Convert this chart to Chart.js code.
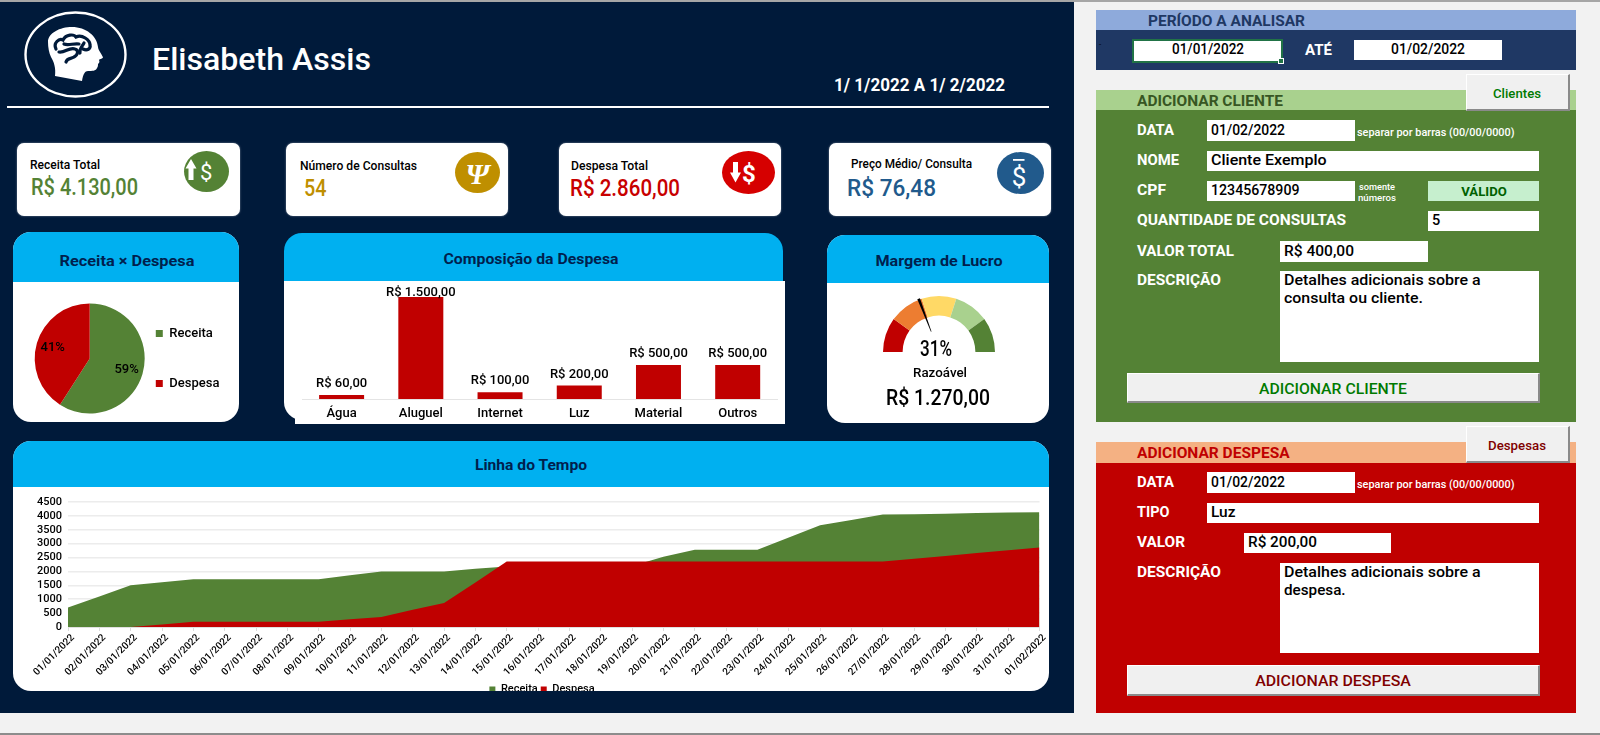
<!DOCTYPE html>
<html lang="pt-BR"><head><meta charset="utf-8"><title>Elisabeth Assis</title>
<script src="https://cdn.jsdelivr.net/npm/chart.js@4/dist/chart.umd.min.js"></script>
<style>
html,body{margin:0;padding:0;width:1600px;height:735px;overflow:hidden;background:#f2f2f2}
#r{position:absolute;left:0;top:0;width:1600px;height:735px;overflow:hidden;font-family:Roboto,sans-serif}
.b{position:absolute;box-sizing:border-box}
.t{position:absolute;white-space:pre;line-height:1}
canvas{position:absolute;display:block}
</style></head><body><div id="r"></div>
<script>
// ---- chart data ----
const pieLabels=['Receita','Despesa'];
const pieValues=[4130,2860];
const pieColors=['#548235','#c00000'];
const costCategories=['Água','Aluguel','Internet','Luz','Material','Outros'];
const costValues=[60,1500,100,200,500,500];
const gaugeSegments=[20,20,20,20,20];
const gaugeColors=['#c00000','#ed7d31','#ffd966','#a9d18e','#548235'];
const gaugeNeedlePercent=38.4;
const timelineDates=['01/01/2022','02/01/2022','03/01/2022','04/01/2022','05/01/2022','06/01/2022','07/01/2022','08/01/2022','09/01/2022','10/01/2022','11/01/2022','12/01/2022','13/01/2022','14/01/2022','15/01/2022','16/01/2022','17/01/2022','18/01/2022','19/01/2022','20/01/2022','21/01/2022','22/01/2022','23/01/2022','24/01/2022','25/01/2022','26/01/2022','27/01/2022','28/01/2022','29/01/2022','30/01/2022','31/01/2022','01/02/2022'];
const timelineReceita=[700,1100,1500,1610,1720,1720,1720,1720,1720,1860,2000,2000,2000,2100,2180,2190,2190,2200,2200,2530,2780,2780,2780,3220,3660,3850,4050,4060,4080,4100,4120,4130];
const timelineDespesa=[0,0,0,90,190,190,190,190,190,280,360,620,860,1600,2360,2360,2360,2360,2360,2360,2360,2360,2360,2360,2360,2360,2360,2460,2560,2660,2760,2860];

const FONT='Roboto, sans-serif', NAVY='#001a3a', INK='#000';
const root=document.getElementById('r');
function box(x,y,w,h,css){const d=document.createElement('div');d.className='b';d.style.cssText=`left:${x}px;top:${y}px;width:${w}px;height:${h}px;${css||''}`;root.appendChild(d);return d;}
function txt(s,x,y,size,weight,color,align,tw){const d=document.createElement('div');d.className='t';d.textContent=s;
 d.style.cssText=`left:${x}px;top:${y}px;font-size:${size}px;font-weight:${weight};color:${color}`;root.appendChild(d);
 const base=align==='c'?'translate(-50%,-50%)':'translateY(-50%)';let sc='';
 if(tw){sc=` scaleX(${tw/d.getBoundingClientRect().width})`;}
 d.style.transformOrigin=align==='c'?'center center':'left center';d.style.transform=base+sc;return d;}
function svg(x,y,w,h,inner){const d=document.createElement('div');d.style.cssText=`position:absolute;left:${x}px;top:${y}px;width:${w}px;height:${h}px`;
 d.innerHTML=`<svg xmlns="http://www.w3.org/2000/svg" width="${w}" height="${h}" viewBox="${x} ${y} ${w} ${h}" style="display:block">${inner}</svg>`;root.appendChild(d);}
function canvas(x,y,w,h,parent){const c=document.createElement('canvas');c.width=w;c.height=h;c.style.cssText=`left:${x}px;top:${y}px;width:${w}px;height:${h}px`;(parent||root).appendChild(c);return c;}

// ---- frame ----
box(0,0,1600,2,'background:#a6a6a6');
box(0,733,1600,2,'background:#8c8c8c');
box(0,2,1074,711,`background:${NAVY}`);
svg(20,8,112,94,`<ellipse cx="75.5" cy="54.5" rx="50" ry="42" fill="none" stroke="#fff" stroke-width="2.4"/>
<path d="M48 42C48 33 60 27 72 27C86 27 97 36 98 47C98 50 103 56 103 57.5C102 59 99 59 99 60C100 62 99 63 98 64C98 65 98 67 97 68C96 71 92 71 88 71C85 71 83 74 82 81L55 76C56 68 54 62 51 57C49 53 48 47 48 42Z" fill="#fff"/>
<g fill="none" stroke="${NAVY}" stroke-width="3.2" stroke-linecap="round"><path d="M56 49C53 43 59 38 63 40C66 34 74 34 76 37C82 34 90 40 90 45C91 49 87 51 83 49"/><path d="M59 52C65 53 69 47 75 49C79 50 78 55 74 57C71 59 67 58 66 62"/><path d="M64 44C68 46 74 43 79 44"/><path d="M84 43C82 47 79 49 80 53"/></g>`);
txt('Elisabeth Assis',152,59,32,500,'#fff','l',219);
txt('1/ 1/2022 A 1/ 2/2022',834,85,18,700,'#fff','l',171);
box(7,106,1042,2,'background:#fff');

// ---- KPI cards ----
const whiteCard='background:#fff;border-radius:7px;box-shadow:0 0 2px rgba(255,255,255,.5)';
box(17,143,223,73,whiteCard);box(286,143,222,73,whiteCard);box(559,143,222,73,whiteCard);box(829,143,222,73,whiteCard);
txt('Receita Total',30,163.5,13,500,INK,'l',70);txt('R$ 4.130,00',31,186.5,23,500,'#548235','l',107);
txt('Número de Consultas',300,164.5,13,500,INK,'l',117);txt('54',304,187.5,23,500,'#bf8f00','l',22.5);
txt('Despesa Total',571,164.5,13,500,INK,'l',77);txt('R$ 2.860,00',570,187.5,23,500,'#c80000','l',110);
txt('Preço Médio/ Consulta',851,162.5,13,500,INK,'l',121);txt('R$ 76,48',847,187.5,23,500,'#215a8c','l',89);
svg(184,151,45,41,`<ellipse cx="206.5" cy="171.5" rx="22.5" ry="20.5" fill="#548235"/><path d="M191 159L196.5 168.5H193.5V180H188.5V168.5H185.5Z" fill="#fff"/>`);
txt('$',200,173,22,400,'#fff','l');
svg(455,152,45,41,`<ellipse cx="477.5" cy="172.5" rx="22.5" ry="20.5" fill="#bf8f00"/>`);
const psi=txt('Ψ',477.5,173.5,30,700,'#fff','c');psi.style.fontFamily='"Liberation Serif",serif';psi.style.fontStyle='italic';
svg(722,151,53,43,`<ellipse cx="748.5" cy="172.5" rx="26.5" ry="21.5" fill="#d60000"/><path d="M733 162H738V172.5H741L735.5 182.5L730 172.5H733Z" fill="#fff"/>`);
txt('$',742,174,24,700,'#fff','l');
svg(997,152,47,42,`<ellipse cx="1020.5" cy="173" rx="23.5" ry="21" fill="#215a8c"/><rect x="1013" y="159" width="11.5" height="1.8" fill="#fff"/>`);
txt('$',1019,177,26,400,'#fff','c');

// ---- chart cards ----
const BLUE='#00b0f0', TITLE='#001f4e';
box(13,232,226,190,'background:#fff;border-radius:18px');
box(13,232,226,50,`background:${BLUE};border-radius:18px 18px 0 0`);
txt('Receita × Despesa',127,261,15,700,TITLE,'c',135);
box(284,281,501,139,'background:#fff;border-bottom-left-radius:18px');
box(295,300,490,124,'background:#fff');
box(284,233,499,48,`background:${BLUE};border-radius:18px 18px 0 0`);
txt('Composição da Despesa',530.5,259,15,700,TITLE,'c',175);
box(827,235,222,188,'background:#fff;border-radius:18px');
box(827,235,222,48,`background:${BLUE};border-radius:18px 18px 0 0`);
txt('Margem de Lucro',939,261,15,700,TITLE,'c',127);
const tlCard=box(13,441,1036,250,'background:#fff;border-radius:18px;overflow:hidden');
box(13,441,1036,46,`background:${BLUE};border-radius:18px 18px 0 0`);
txt('Linha do Tempo',531,465,15,700,TITLE,'c',112);

// ---- right panels ----
const LB=(s,y,tw)=>txt(s,1136.5,y,15,700,'#fff','l',tw);
function input(x,y,w,h,s,tw){box(x,y,w,h,'background:#fff');txt(s,x+4,y+h/2,14.5,500,INK,'l',tw);}
function btn(x,y,w,h,s,col,size,tw,dy){box(x,y,w,h,'background:#f0f0f0;border-top:1px solid #fff;border-left:1px solid #fff;border-right:2px solid #8a8a8a;border-bottom:2px solid #8a8a8a');txt(s,x+w/2-1,y+h/2+(dy||0),size,500,col,'c',tw);}
box(1096,10,480,20,'background:#8eaadb');box(1096,30,480,40,'background:#1f3864');
txt('PERÍODO A ANALISAR',1148,21,15,700,'#1f3864','l',157);
txt('-',1099,45,8,400,'#000','l');
box(1132,39,151,24,'background:#fff;border:2px solid #217346');box(1278,58,6,6,'background:#217346;border:1px solid #fff');
txt('01/01/2022',1207.5,50,14.5,500,INK,'c',72);
txt('ATÉ',1305,50,14,700,'#fff','l',27);
box(1354,40,148,20,'background:#fff');txt('01/02/2022',1428,50,14.5,500,INK,'c',74);

box(1096,90,480,20,'background:#a9d18e');box(1096,110,480,312,'background:#548235');
txt('ADICIONAR CLIENTE',1136.5,101,15,700,'#375623','l',146);
btn(1466,74,104,37,'Clientes','#007a00',13,48);
LB('DATA',130,37);input(1207,120,148,21,'01/02/2022',74);
txt('separar por barras (00/00/0000)',1357,133,10.5,500,'#fff','l',157.5);
LB('NOME',160,42);input(1207,151,332,20,'Cliente Exemplo',115.7);
LB('CPF',190,29);input(1207,181,148,20,'12345678909',88.5);
txt('somente',1358.5,187,9,500,'#fff','l',36);txt('números',1358,198,9,500,'#fff','l',38);
box(1428,181,111,20,'background:#c6efce');txt('VÁLIDO',1484,191,13,700,'#006100','c',45.5);
LB('QUANTIDADE DE CONSULTAS',220,209);input(1428,211,111,20,'5');
LB('VALOR TOTAL',251,97);input(1280,241,148,21,'R$ 400,00',70);
LB('DESCRIÇÃO',280,84);box(1280,271,259,91,'background:#fff');
txt('Detalhes adicionais sobre a',1284,281,14.5,500,INK,'l',196.6);txt('consulta ou cliente.',1284,299,14.5,500,INK,'l',139);
btn(1127,373,413,30,'ADICIONAR CLIENTE','#007a00',15.5,148,1.5);

box(1096,442,480,21,'background:#f4b183');box(1096,463,480,250,'background:#c00000');
txt('ADICIONAR DESPESA',1136.5,453,15,700,'#c00000','l',152.6);
btn(1466,426,104,37,'Despesas','#800000',13,58);
LB('DATA',481.5,37);input(1207,472,148,21,'01/02/2022',74);
txt('separar por barras (00/00/0000)',1357,485,10.5,500,'#fff','l',157.5);
LB('TIPO',512,32.4);input(1207,503,332,20,'Luz',24.5);
LB('VALOR',542,48);input(1244,533,147,20,'R$ 200,00',69);
LB('DESCRIÇÃO',572,84);box(1280,563,259,90,'background:#fff');
txt('Detalhes adicionais sobre a',1284,573,14.5,500,INK,'l',196.6);txt('despesa.',1284,591,14.5,500,INK,'l',61.6);
btn(1127,665,413,31,'ADICIONAR DESPESA','#800000',15.5,155.7,1);

// ---- Chart.js ----
Chart.defaults.font.family=FONT;Chart.defaults.color=INK;Chart.defaults.animation=false;Chart.defaults.responsive=false;
Chart.defaults.plugins.tooltip.enabled=false;

const pctLabels={id:'pctLabels',afterDatasetsDraw(ch){const ctx=ch.ctx,els=ch.getDatasetMeta(0).data,tot=pieValues.reduce((a,b)=>a+b,0);
 ctx.save();ctx.font=`500 13px ${FONT}`;ctx.fillStyle=INK;ctx.textAlign='center';ctx.textBaseline='middle';
 els.forEach((a,i)=>{const m=(a.startAngle+a.endAngle)/2,r=a.outerRadius*.7;ctx.fillText(Math.round(pieValues[i]/tot*100)+'%',a.x+Math.cos(m)*r,a.y+Math.sin(m)*r);});ctx.restore();}};
new Chart(canvas(13,289,226,139),{type:'pie',data:{labels:pieLabels,datasets:[{data:pieValues,backgroundColor:pieColors,borderWidth:0,radius:55,clip:false}]},
 options:{layout:{padding:{left:47.6,right:9.6,top:0,bottom:0}},plugins:{legend:{position:'right',maxWidth:130,labels:{boxWidth:7,boxHeight:7,padding:37,font:{size:13,weight:'500'}}}}},plugins:[pctLabels]});

const barLabels={id:'barLabels',afterDatasetsDraw(ch){const ctx=ch.ctx,els=ch.getDatasetMeta(0).data;
 ctx.save();ctx.font=`500 13px ${FONT}`;ctx.fillStyle=INK;ctx.textAlign='center';ctx.textBaseline='middle';
 els.forEach((b,i)=>{const s='R$ '+costValues[i].toLocaleString('pt-BR',{minimumFractionDigits:2,maximumFractionDigits:2});ctx.fillText(s,b.x,Math.max(12,b.y-11));});ctx.restore();}};
new Chart(canvas(284,281,501,143),{type:'bar',data:{labels:costCategories,datasets:[{data:costValues,backgroundColor:'#c00000',categoryPercentage:1,barPercentage:.568}]},
 options:{layout:{padding:{left:18,right:7.7,top:16,bottom:0}},plugins:{legend:{display:false}},
 scales:{y:{display:false,min:0,max:1500},x:{afterFit(s){s.height=25;},border:{color:'#e4e4e4'},grid:{display:false,drawTicks:false,tickLength:0},ticks:{padding:7,font:{size:13,weight:'500'},color:INK}}}},plugins:[barLabels]});

const needle={id:'needle',afterDatasetsDraw(ch){const a=ch.getDatasetMeta(0).data[0],ctx=ch.ctx,t=Math.PI+gaugeNeedlePercent/100*Math.PI,c=Math.cos(t),s=Math.sin(t),r0=a.outerRadius*.39,r1=a.outerRadius*1.02;
 ctx.save();ctx.fillStyle='#000';ctx.beginPath();ctx.moveTo(a.x+c*r0-s*.3,a.y+s*r0+c*.3);ctx.lineTo(a.x+c*r1-s*1.4,a.y+s*r1+c*1.4);ctx.lineTo(a.x+c*r1+s*1.4,a.y+s*r1-c*1.4);ctx.lineTo(a.x+c*r0+s*.3,a.y+s*r0-c*.3);ctx.closePath();ctx.fill();ctx.restore();}};
new Chart(canvas(827,283,222,139),{type:'doughnut',data:{labels:['1','2','3','4','5'],datasets:[{data:gaugeSegments,backgroundColor:gaugeColors,borderWidth:0,clip:false}]},
 options:{rotation:-90,circumference:180,cutout:'65%',layout:{padding:{left:56,right:54,top:13,bottom:70}},plugins:{legend:{display:false}}},plugins:[needle]});
txt('31%',936,349,22,500,INK,'c',32);txt('Razoável',940,373,13.5,500,INK,'c',54);txt('R$ 1.270,00',938,398,21.5,500,INK,'c',104);

const legendShift={id:'legendShift',afterLayout(ch){ch.legend.left+=15.5;ch.legend.right+=15.5;}};
const tlCanvas=canvas(0,46,1036,218,tlCard);
new Chart(tlCanvas,{type:'line',data:{labels:timelineDates,datasets:[
 {label:'Despesa',data:timelineDespesa,borderWidth:0,pointRadius:0,tension:0,fill:'origin',backgroundColor:'#c00000',borderColor:'#c00000'},
 {label:'Receita',data:timelineReceita,borderWidth:0,pointRadius:0,tension:0,fill:'origin',backgroundColor:'#548235',borderColor:'#548235'}]},
 options:{layout:{padding:{left:0,right:9,top:15,bottom:0}},
 plugins:{legend:{position:'bottom',labels:{boxWidth:6,boxHeight:6,padding:3,font:{size:11,weight:'500'},sort:(a,b)=>b.datasetIndex-a.datasetIndex}}},
 scales:{y:{min:0,max:4500,afterFit(s){s.width=55;},border:{display:false},grid:{color:'#ececec',lineWidth:1.5,drawTicks:false},ticks:{stepSize:500,autoSkip:false,padding:6,font:{size:11,weight:'500'},color:INK,callback:v=>String(v)}},
 x:{offset:false,afterFit(s){s.height=54;},border:{color:'#e0e0e0'},grid:{drawOnChartArea:false,tickLength:4,tickColor:'#dcdcdc'},ticks:{autoSkip:false,minRotation:45,maxRotation:45,padding:1,labelOffset:5,font:{size:10,weight:'500'},color:INK}}}},plugins:[legendShift]});
</script></body></html>
